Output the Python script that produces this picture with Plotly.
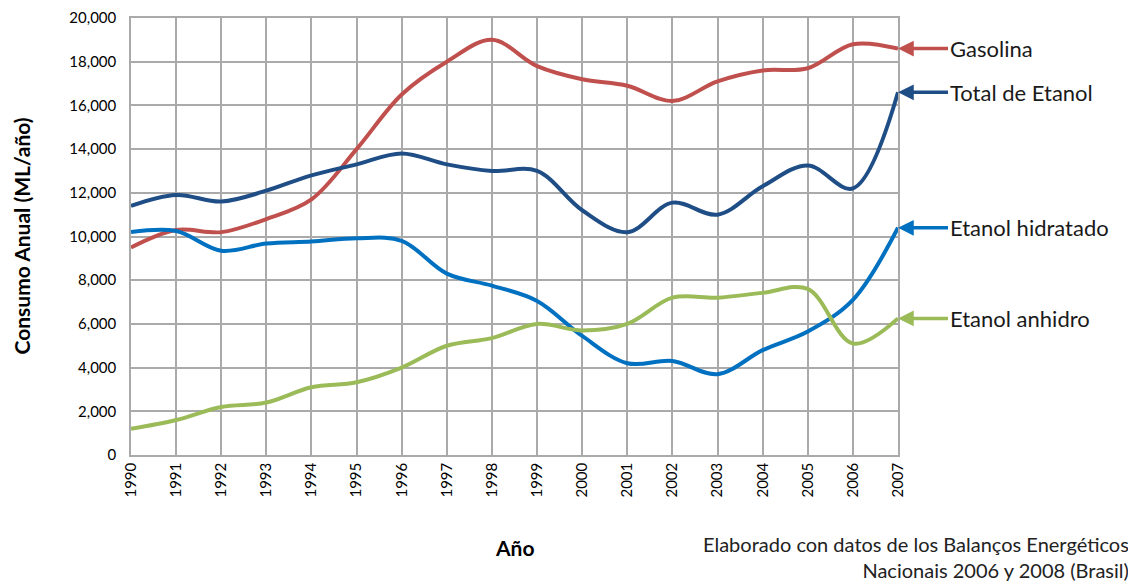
import plotly.graph_objects as go

years = list(range(1990, 2008))
year_labels = [str(y) for y in years]

gasolina = [9500, 10300, 10200, 10800, 11700, 14000, 16500, 18000, 19000, 17800,
            17200, 16900, 16200, 17100, 17600, 17700, 18800, 18600]
total_etanol = [11400, 11900, 11600, 12100, 12800, 13300, 13800, 13300, 13000, 13000,
                11200, 10200, 11550, 11000, 12300, 13250, 12200, 16600]
etanol_hidratado = [10200, 10250, 9350, 9680, 9770, 9920, 9800, 8300, 7750, 7050,
                    5450, 4200, 4300, 3700, 4800, 5650, 7100, 10400]
etanol_anhidro = [1200, 1600, 2200, 2400, 3100, 3330, 4000, 5000, 5350, 6000,
                  5700, 6000, 7200, 7200, 7420, 7600, 5100, 6250]

series_names = ["Gasolina", "Total de Etanol", "Etanol hidratado", "Etanol anhidro"]
series_values = [gasolina, total_etanol, etanol_hidratado, etanol_anhidro]
series_colors = ["#C0504D", "#1F4E86", "#0070C0", "#9BBB59"]

y_ticks = list(range(0, 20001, 2000))
y_tick_labels = [f"{v:,}" for v in y_ticks]

FONT = "Lato, 'Open Sans', sans-serif"

fig = go.Figure()
for name, vals, col in zip(series_names, series_values, series_colors):
    fig.add_trace(go.Scatter(
        x=years, y=vals, name=name, mode="lines",
        line=dict(color=col, width=4, shape="spline", smoothing=1.0),
        showlegend=False,
    ))

for name, vals, col in zip(series_names, series_values, series_colors):
    fig.add_annotation(
        x=years[-1], y=vals[-1], xref="x", yref="y",
        text=name, showarrow=True, arrowhead=2, arrowsize=0.9, arrowwidth=3.5,
        arrowcolor=col, ax=50, ay=0, xanchor="left", yanchor="middle",
        font=dict(family=FONT, size=22, color="#1a1a1a"),
        standoff=0, startstandoff=0, borderpad=1,
    )

# axis titles
fig.add_annotation(
    x=0, y=0.5, xref="paper", yref="paper", xshift=-110,
    text="<b>Consumo Anual (ML/año)</b>", textangle=-90, showarrow=False,
    xanchor="center", yanchor="middle",
    font=dict(family=FONT, size=21, color="#000"),
)
fig.add_annotation(
    x=0.5, y=0, xref="paper", yref="paper", yshift=-92,
    text="<b>Año</b>", showarrow=False, xanchor="center", yanchor="middle",
    font=dict(family=FONT, size=21, color="#000"),
)

fig.add_annotation(
    x=1, y=0, xref="paper", yref="paper",
    text="Elaborado con datos de los Balanços Energéticos<br>Nacionais 2006 y 2008 (Brasil)",
    showarrow=False, xanchor="right", yanchor="top", align="right",
    xshift=233, yshift=-75, font=dict(family=FONT, size=20, color="#222"),
)

fig.update_layout(
    width=1136, height=582,
    margin=dict(l=123, r=246, t=10, b=135),
    paper_bgcolor="white", plot_bgcolor="white",
    font=dict(family=FONT, size=14, color="#000"),
    xaxis=dict(
        range=[1990, 2007], tickmode="array", tickvals=years, ticktext=year_labels,
        tickangle=-90, showgrid=True, gridcolor="#aaaaaa", gridwidth=1.5,
        showline=True, linecolor="#aaaaaa", linewidth=1.5, mirror=True,
        zeroline=False, ticks="", automargin=False,
        tickfont=dict(family=FONT, size=15, color="#000"),
    ),
    yaxis=dict(
        range=[0, 20000], tickmode="array", tickvals=y_ticks, ticktext=y_tick_labels,
        showgrid=True, gridcolor="#aaaaaa", gridwidth=1.5,
        showline=True, linecolor="#aaaaaa", linewidth=1.5, mirror=True,
        zeroline=False, ticks="", ticklabelstandoff=10, automargin=False,
        tickfont=dict(family=FONT, size=15, color="#000"),
    ),
)

fig.write_html("out.html")
